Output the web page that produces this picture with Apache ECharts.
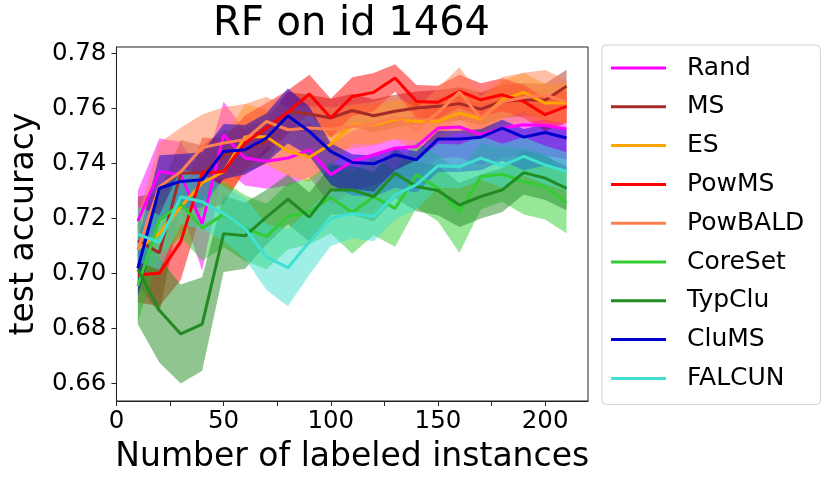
<!DOCTYPE html>
<html><head><meta charset="utf-8">
<script src="https://cdn.jsdelivr.net/npm/echarts/dist/echarts.min.js"></script>
<style>html,body{margin:0;padding:0;background:#fff}#c{width:831px;height:482px}</style>
</head><body><div id="c"></div>
<script>
const xValues = [10,20,30,40,50,60,70,80,90,100,110,120,130,140,150,160,170,180,190,200,210];
const xTicks = [0,25,50,75,100,125,150,175,200];
const xTickLabels = [0,50,100,150,200];
const yTicks = [0.66,0.68,0.70,0.72,0.74,0.76,0.78];

const methods = ['Rand','MS','ES','PowMS','PowBALD','CoreSet','TypClu','CluMS','FALCUN'];
const colors = ['#ff00ff','#a52a2a','#ffa500','#ff0000','#ff7f50','#32cd32','#228b22','#0000cd','#40e0d0'];

const randMean = [0.7191,0.7371,0.7359,0.7180,0.7505,0.7420,0.7408,0.7420,0.7450,0.7359,0.7408,0.7432,0.7456,0.7462,0.7529,0.7533,0.7505,0.7529,0.7541,0.7538,0.7526];
const randLow  = [0.7081,0.7251,0.7239,0.7010,0.7385,0.7320,0.7308,0.7320,0.7350,0.7249,0.7298,0.7322,0.7346,0.7352,0.7419,0.7423,0.7395,0.7419,0.7431,0.7428,0.7416];
const randHigh = [0.7301,0.7491,0.7479,0.7350,0.7625,0.7520,0.7508,0.7520,0.7550,0.7469,0.7518,0.7542,0.7566,0.7572,0.7639,0.7643,0.7615,0.7639,0.7651,0.7648,0.7636];

const msMean = [0.7120,0.7075,0.7366,0.7366,0.7430,0.7450,0.7480,0.7590,0.7580,0.7566,0.7593,0.7574,0.7590,0.7602,0.7608,0.7618,0.7598,0.7626,0.7632,0.7630,0.7681];
const msLow  = [0.6960,0.6855,0.7246,0.7266,0.7340,0.7370,0.7400,0.7520,0.7510,0.7496,0.7533,0.7514,0.7530,0.7542,0.7548,0.7558,0.7538,0.7566,0.7572,0.7570,0.7621];
const msHigh = [0.7280,0.7295,0.7486,0.7466,0.7520,0.7530,0.7560,0.7660,0.7650,0.7636,0.7653,0.7634,0.7650,0.7662,0.7668,0.7678,0.7658,0.7686,0.7692,0.7690,0.7741];

const esMean = [0.7090,0.7145,0.7243,0.7330,0.7370,0.7497,0.7497,0.7445,0.7423,0.7470,0.7541,0.7541,0.7560,0.7553,0.7553,0.7584,0.7562,0.7632,0.7659,0.7620,0.7620];
const esLow  = [0.6990,0.7045,0.7143,0.7230,0.7250,0.7377,0.7397,0.7355,0.7333,0.7390,0.7471,0.7471,0.7490,0.7483,0.7483,0.7514,0.7492,0.7562,0.7589,0.7550,0.7550];
const esHigh = [0.7190,0.7245,0.7343,0.7430,0.7490,0.7617,0.7597,0.7535,0.7513,0.7550,0.7611,0.7611,0.7630,0.7623,0.7623,0.7654,0.7632,0.7702,0.7729,0.7690,0.7690];

const powmsMean = [0.6995,0.7001,0.7116,0.7365,0.7371,0.7475,0.7530,0.7587,0.7653,0.7566,0.7644,0.7659,0.7711,0.7626,0.7623,0.7663,0.7632,0.7650,0.7626,0.7578,0.7608];
const powmsLow  = [0.6895,0.6881,0.6976,0.7235,0.7251,0.7375,0.7440,0.7507,0.7583,0.7496,0.7574,0.7589,0.7661,0.7566,0.7563,0.7603,0.7572,0.7590,0.7566,0.7518,0.7548];
const powmsHigh = [0.7095,0.7121,0.7256,0.7495,0.7491,0.7575,0.7620,0.7667,0.7723,0.7636,0.7714,0.7729,0.7761,0.7686,0.7683,0.7723,0.7692,0.7710,0.7686,0.7638,0.7668];

const powbaldMean = [0.7086,0.7316,0.7370,0.7458,0.7475,0.7487,0.7553,0.7523,0.7529,0.7525,0.7535,0.7545,0.7568,0.7523,0.7585,0.7660,0.7565,0.7625,0.7640,0.7650,0.7624];
const powbaldLow  = [0.6966,0.7156,0.7210,0.7338,0.7345,0.7357,0.7463,0.7443,0.7449,0.7445,0.7455,0.7465,0.7488,0.7443,0.7495,0.7570,0.7485,0.7535,0.7550,0.7560,0.7544];
const powbaldHigh = [0.7206,0.7476,0.7530,0.7578,0.7605,0.7617,0.7643,0.7603,0.7609,0.7605,0.7615,0.7625,0.7648,0.7603,0.7675,0.7750,0.7645,0.7715,0.7730,0.7740,0.7704];

const coresetMean = [0.6955,0.7195,0.7253,0.7165,0.7215,0.7165,0.7134,0.7207,0.7225,0.7276,0.7222,0.7279,0.7237,0.7359,0.7310,0.7225,0.7353,0.7361,0.7335,0.7316,0.7256];
const coresetLow  = [0.6825,0.7065,0.7133,0.7045,0.7095,0.7045,0.7014,0.7087,0.7105,0.7146,0.7072,0.7139,0.7097,0.7239,0.7190,0.7075,0.7233,0.7261,0.7215,0.7196,0.7146];
const coresetHigh = [0.7085,0.7325,0.7373,0.7285,0.7335,0.7285,0.7254,0.7327,0.7345,0.7406,0.7372,0.7419,0.7377,0.7479,0.7430,0.7375,0.7473,0.7461,0.7455,0.7436,0.7366];

const typcluMean = [0.7015,0.6866,0.6780,0.6816,0.7145,0.7137,0.7205,0.7270,0.7205,0.7304,0.7304,0.7279,0.7365,0.7316,0.7302,0.7249,0.7280,0.7304,0.7367,0.7347,0.7310];
const typcluLow  = [0.6815,0.6676,0.6600,0.6646,0.7005,0.7017,0.7105,0.7180,0.7115,0.7214,0.7214,0.7189,0.7275,0.7226,0.7212,0.7169,0.7200,0.7224,0.7287,0.7267,0.7230];
const typcluHigh = [0.7215,0.7056,0.6960,0.6986,0.7285,0.7257,0.7305,0.7360,0.7295,0.7394,0.7394,0.7369,0.7455,0.7406,0.7392,0.7329,0.7360,0.7384,0.7447,0.7427,0.7390];

const clumsMean = [0.7019,0.7310,0.7335,0.7341,0.7444,0.7450,0.7493,0.7574,0.7517,0.7444,0.7404,0.7399,0.7432,0.7414,0.7489,0.7489,0.7496,0.7529,0.7496,0.7513,0.7493];
const clumsLow  = [0.6919,0.7190,0.7235,0.7241,0.7344,0.7360,0.7403,0.7474,0.7427,0.7324,0.7284,0.7279,0.7312,0.7294,0.7369,0.7369,0.7376,0.7409,0.7376,0.7393,0.7373];
const clumsHigh = [0.7119,0.7430,0.7435,0.7441,0.7544,0.7540,0.7583,0.7674,0.7607,0.7474,0.7434,0.7429,0.7462,0.7444,0.7519,0.7519,0.7526,0.7559,0.7526,0.7543,0.7523];

const falcunMean = [0.7143,0.7113,0.7279,0.7261,0.7218,0.7164,0.7060,0.7021,0.7115,0.7200,0.7218,0.7207,0.7286,0.7323,0.7392,0.7389,0.7420,0.7392,0.7426,0.7395,0.7371];
const falcunLow  = [0.7043,0.7013,0.7179,0.7161,0.7118,0.7054,0.6940,0.6881,0.6995,0.7100,0.7128,0.7117,0.7196,0.7233,0.7312,0.7309,0.7340,0.7312,0.7356,0.7325,0.7301];
const falcunHigh = [0.7243,0.7213,0.7379,0.7361,0.7318,0.7274,0.7180,0.7161,0.7235,0.7300,0.7308,0.7297,0.7376,0.7413,0.7472,0.7469,0.7500,0.7472,0.7496,0.7465,0.7441];

const means = [randMean,msMean,esMean,powmsMean,powbaldMean,coresetMean,typcluMean,clumsMean,falcunMean];
const lows  = [randLow,msLow,esLow,powmsLow,powbaldLow,coresetLow,typcluLow,clumsLow,falcunLow];
const highs = [randHigh,msHigh,esHigh,powmsHigh,powbaldHigh,coresetHigh,typcluHigh,clumsHigh,falcunHigh];

const FONT = 'DejaVu Sans';
const series = [];
methods.forEach((m, i) => {
  const bandData = xValues.map((x, j) => [x, lows[i][j], highs[i][j]]);
  series.push({
    type: 'custom', name: m + ' band', silent: true, z: 1,
    encode: { x: 0, y: [1, 2] },
    data: bandData,
    renderItem: function (params, api) {
      if (params.dataIndex !== 0) return null;
      const upper = bandData.map(d => api.coord([d[0], d[2]]));
      const lower = bandData.map(d => api.coord([d[0], d[1]])).reverse();
      return {
        type: 'polygon',
        shape: { points: upper.concat(lower) },
        style: { fill: colors[i], opacity: 0.5 }
      };
    }
  });
});
methods.forEach((m, i) => {
  series.push({
    type: 'line', name: m, z: 3, symbol: 'none',
    itemStyle: { color: colors[i] },
    lineStyle: { color: colors[i], width: 3 },
    data: xValues.map((x, j) => [x, means[i][j]])
  });
});

const chart = echarts.init(document.getElementById('c'));
chart.setOption({
  animation: false,
  backgroundColor: '#fff',
  title: {
    text: 'RF on id 1464', left: 351.5, top: 5, textAlign: 'center', padding: 0,
    textStyle: { fontFamily: FONT, fontSize: 40, fontWeight: 'normal', color: '#000' }
  },
  grid: { left: 115, right: 243, top: 47, bottom: 81, show: true, borderColor: '#222', borderWidth: 1, backgroundColor: 'transparent' },
  legend: {
    orient: 'vertical', left: 602, top: 45,
    data: methods.map(m => ({ name: m, icon: 'rect' })),
    itemWidth: 55, itemHeight: 3, itemGap: 12.8,
    textStyle: { fontFamily: FONT, fontSize: 25, color: '#000', lineHeight: 26, padding: [0, 0, 0, 16] },
    padding: [10, 16, 13, 9], borderColor: '#d0d0d0', borderWidth: 1, borderRadius: 4, backgroundColor: '#fff'
  },
  xAxis: {
    type: 'value', min: 0, max: 220,
    name: 'Number of labeled instances', nameLocation: 'middle', nameGap: 40,
    nameTextStyle: { fontFamily: FONT, fontSize: 33, color: '#000' },
    axisLine: { lineStyle: { color: '#222', width: 1 } },
    axisTick: { show: true, length: 5, lineStyle: { color: '#222' }, customValues: xTicks },
    axisLabel: { fontFamily: FONT, fontSize: 24.5, color: '#000', margin: 8, customValues: xTickLabels },
    splitLine: { show: false }
  },
  yAxis: {
    type: 'value', min: 0.6536, max: 0.7824,
    name: 'test accuracy', nameLocation: 'middle', nameGap: 70, nameRotate: 90,
    nameTextStyle: { fontFamily: FONT, fontSize: 33, color: '#000' },
    axisLine: { show: true, lineStyle: { color: '#222', width: 1 } },
    axisTick: { show: true, length: 5, lineStyle: { color: '#222' }, customValues: yTicks },
    axisLabel: { fontFamily: FONT, fontSize: 24.5, color: '#000', margin: 10, customValues: yTicks, formatter: v => v.toFixed(2) },
    splitLine: { show: false }
  },
  series: series
});
</script>
</body></html>
